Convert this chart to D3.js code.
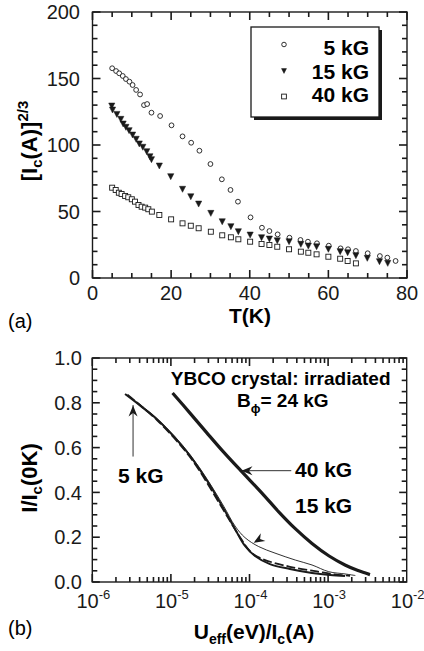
<!DOCTYPE html>
<html>
<head>
<meta charset="utf-8">
<script src="https://cdn.jsdelivr.net/npm/d3@7/dist/d3.min.js"></script>
<style>
  html, body { margin: 0; padding: 0; background: #fff; }
  svg { display: block; font-family: "Liberation Sans", Arial, Helvetica, sans-serif; }
</style>
</head>
<body>
<svg id="fig" width="424" height="651"></svg>
<script>
// ---- Panel (a): [Ic(A)]^(2/3) versus T(K) ----
const temps5 = [5.0, 6.0, 6.8, 7.7, 8.5, 9.4, 10.2, 11.1, 12.1, 13.1, 13.9, 15.0, 17.2, 20.1, 22.9, 25.1, 27.2, 30.0, 32.9, 35.1, 37.0, 40.2, 43.1, 45.0, 47.1, 50.1, 52.9, 54.8, 57.1, 60.1, 63.1, 65.0, 67.0, 70.0, 73.1, 75.0, 77.1];
const ic5 = [157.7, 155.6, 153.9, 151.9, 149.6, 147.6, 145.1, 141.4, 138.0, 130.0, 130.8, 124.3, 121.8, 114.8, 106.5, 101.7, 95.7, 85.7, 74.2, 66.2, 57.4, 45.6, 37.8, 35.3, 32.8, 30.3, 28.6, 27.3, 26.1, 24.3, 22.3, 21.6, 20.3, 18.6, 16.5, 15.3, 12.8];

const temps15 = [4.9, 5.1, 6.2, 7.2, 7.8, 8.5, 9.3, 10.2, 11.1, 11.9, 12.8, 13.8, 14.6, 15.0, 17.0, 19.9, 22.9, 25.0, 27.0, 30.1, 33.0, 35.2, 37.1, 40.1, 43.0, 45.0, 47.0, 50.0, 53.0, 54.9, 57.0, 60.0, 63.0, 64.9, 67.0, 69.9, 73.0, 75.1];
const ic15 = [129.3, 126.3, 123.0, 119.3, 115.8, 113.3, 110.8, 107.5, 104.3, 100.8, 98.3, 95.0, 91.2, 89.0, 84.2, 76.2, 66.7, 61.1, 55.6, 48.6, 42.3, 38.6, 34.8, 32.3, 30.3, 29.3, 28.0, 27.3, 25.3, 24.0, 23.5, 21.6, 19.8, 19.0, 16.8, 14.8, 12.3, 11.0];

const temps40 = [5.0, 5.9, 6.7, 7.4, 8.3, 9.1, 10.0, 10.8, 11.7, 12.5, 13.4, 14.2, 15.1, 17.0, 20.0, 22.9, 25.0, 27.0, 30.1, 33.0, 35.2, 37.1, 40.1, 43.0, 45.0, 47.0, 50.0, 53.0, 54.9, 57.0, 60.0, 63.0, 64.9, 67.0];
const ic40 = [67.9, 66.2, 64.1, 63.2, 61.7, 60.7, 59.2, 57.4, 54.9, 53.6, 52.9, 51.7, 49.9, 47.4, 44.1, 41.1, 39.3, 37.4, 34.8, 32.1, 30.6, 29.1, 27.3, 25.6, 24.8, 23.5, 21.6, 19.8, 19.0, 17.8, 16.0, 14.5, 12.8, 11.0];

const legendLabels = ["5 kG", "15 kG", "40 kG"];
const tTicks = [0, 20, 40, 60, 80];
const icTicks = [0, 50, 100, 150, 200];

// ---- Panel (b): I/Ic(0K) versus Ueff(eV)/Ic(A) ----
const curve40x = [1.05e-5, 1.75e-5, 2.85e-5, 4.6e-5, 7.7e-5, 1.44e-4, 2.37e-4, 3.79e-4, 6.24e-4, 1.03e-3, 1.64e-3, 2.4e-3, 3.41e-3];
const curve40y = [0.844, 0.754, 0.667, 0.583, 0.498, 0.397, 0.312, 0.239, 0.172, 0.116, 0.076, 0.051, 0.033];

const curve5x = [2.61e-6, 4.04e-6, 6.6e-6, 1.07e-5, 1.75e-5, 2.85e-5, 4.64e-5, 6.54e-5, 8.77e-5, 1.175e-4, 1.82e-4, 3.27e-4, 6.24e-4, 1.06e-3, 1.64e-3];
const curve5y = [0.839, 0.788, 0.728, 0.652, 0.563, 0.455, 0.330, 0.237, 0.161, 0.116, 0.080, 0.058, 0.040, 0.031, 0.027];

const curve15x = [2.7e-6, 4.2e-6, 6.8e-6, 1.1e-5, 1.8e-5, 2.9e-5, 4.7e-5, 6.54e-5, 8.77e-5, 1.31e-4, 2.11e-4, 3.83e-4, 6.24e-4, 1.02e-3, 1.64e-3, 2.22e-3];
const curve15y = [0.838, 0.788, 0.726, 0.653, 0.563, 0.458, 0.338, 0.250, 0.198, 0.158, 0.129, 0.098, 0.076, 0.046, 0.036, 0.029];

const curve15bx = [2.8e-6, 6.6e-6, 1.75e-5, 4.5e-5, 7.2e-5, 1.03e-4, 1.45e-4, 3.27e-4, 7.2e-4, 1.2e-3, 1.9e-3];
const curve15by = [0.836, 0.724, 0.558, 0.330, 0.212, 0.135, 0.103, 0.068, 0.047, 0.034, 0.028];

const uTicks = [1e-6, 1e-5, 1e-4, 1e-3, 1e-2];
const fracTicks = [0.0, 0.2, 0.4, 0.6, 0.8, 1.0];

const svg = d3.select("#fig");
const INK = "#1a1a1a";

// ================= Panel (a) =================
const ax = d3.scaleLinear().domain([0, 80]).range([92.5, 407]);
const ay = d3.scaleLinear().domain([0, 200]).range([278, 12]);

const ga = svg.append("g");

function frame(g, xs, ys) {
  const [x0, x1] = xs.range(), [y0, y1] = ys.range();
  g.append("rect").attr("x", x0).attr("y", y1).attr("width", x1 - x0).attr("height", y0 - y1)
    .attr("fill", "none").attr("stroke", INK).attr("stroke-width", 1.4);
}

function tickPair(g, x1, y1, x2, y2) {
  g.append("line").attr("x1", x1).attr("y1", y1).attr("x2", x2).attr("y2", y2)
    .attr("stroke", INK).attr("stroke-width", 1.6);
}

function linTicks(g, xs, ys, xMinor, xMajor, yMinor, yMajor) {
  const [x0, x1] = xs.range(), [y0, y1] = ys.range();
  const [dx0, dx1] = xs.domain(), [dy0, dy1] = ys.domain();
  d3.range(dx0, dx1 + 1e-9, xMinor).forEach(v => {
    const major = Math.abs(v / xMajor - Math.round(v / xMajor)) < 1e-6;
    const len = major ? 8 : 5, x = xs(v);
    tickPair(g, x, y0, x, y0 - len);
    tickPair(g, x, y1, x, y1 + len);
  });
  d3.range(dy0, dy1 + 1e-9, yMinor).forEach(v => {
    const major = Math.abs(v / yMajor - Math.round(v / yMajor)) < 1e-6;
    const len = major ? 8 : 5, y = ys(v);
    tickPair(g, x0, y, x0 + len, y);
    tickPair(g, x1, y, x1 - len, y);
  });
}

linTicks(ga, ax, ay, 5, 20, 10, 50);
frame(ga, ax, ay);

// tick labels
ga.selectAll("text.xt").data(tTicks).join("text")
  .attr("x", d => ax(d)).attr("y", 299.5).attr("text-anchor", "middle")
  .attr("font-size", 20).attr("fill", INK).text(d => d);
ga.selectAll("text.yt").data(icTicks).join("text")
  .attr("x", 80).attr("y", d => ay(d) + 7).attr("text-anchor", "end")
  .attr("font-size", 20).attr("fill", INK).text(d => d);

// axis titles
ga.append("text").attr("x", 250).attr("y", 323).attr("text-anchor", "middle")
  .attr("font-size", 21).attr("font-weight", "bold").text("T(K)");
ga.append("text").attr("x", 8).attr("y", 328).attr("font-size", 20).text("(a)");

const ylab = ga.append("text").attr("transform", "translate(37,141) rotate(-90)")
  .attr("text-anchor", "middle").attr("font-size", 22).attr("font-weight", "bold");
ylab.append("tspan").text("[I");
ylab.append("tspan").attr("font-size", 15).attr("dy", 5).text("c");
ylab.append("tspan").attr("dy", -5).text("(A)]");
ylab.append("tspan").attr("font-size", 15).attr("dy", -9).text("2/3");

// markers
const series = [
  { t: temps5, v: ic5, shape: "circle" },
  { t: temps15, v: ic15, shape: "tri" },
  { t: temps40, v: ic40, shape: "square" }
];

function marker(g, shape, x, y, s) {
  if (shape === "circle") {
    g.append("circle").attr("cx", x).attr("cy", y).attr("r", 2.4 * s)
      .attr("fill", "#fff").attr("stroke", INK).attr("stroke-width", 0.9);
  } else if (shape === "square") {
    const h = 2.5 * s;
    g.append("rect").attr("x", x - h).attr("y", y - h).attr("width", 2 * h).attr("height", 2 * h)
      .attr("fill", "#fff").attr("stroke", INK).attr("stroke-width", 0.9);
  } else {
    const w = 3.1 * s, h = 3.0 * s;
    g.append("path").attr("d", `M${x - w},${y - h}L${x + w},${y - h}L${x},${y + h}Z`)
      .attr("fill", INK).attr("stroke", INK).attr("stroke-width", 0.5);
  }
}

series.forEach(s => {
  const g = ga.append("g");
  s.t.forEach((t, i) => marker(g, s.shape, ax(t), ay(s.v[i]), 1));
});

// legend with drop shadow
const lg = ga.append("g");
lg.append("rect").attr("x", 254).attr("y", 30).attr("width", 128).attr("height", 90).attr("fill", INK);
lg.append("rect").attr("x", 251).attr("y", 27).attr("width", 128).attr("height", 90)
  .attr("fill", "#fff").attr("stroke", INK).attr("stroke-width", 1.3);
const legRows = [{ shape: "circle", sy: 44.5, ty: 55 }, { shape: "tri", sy: 71, ty: 78.5 }, { shape: "square", sy: 96.5, ty: 101.5 }];
legRows.forEach((r, i) => {
  marker(lg, r.shape, 284, r.sy, r.shape === "tri" ? 0.8 : 0.95);
  lg.append("text").attr("x", 369).attr("y", r.ty).attr("text-anchor", "end")
    .attr("font-size", 21).attr("font-weight", "bold").text(legendLabels[i]);
});

// ================= Panel (b) =================
const bx = d3.scaleLog().domain([1e-6, 1e-2]).range([92.3, 406.7]);
const by = d3.scaleLinear().domain([0, 1]).range([582, 358]);
const gb = svg.append("g");

// log ticks on x, linear ticks on y
(function () {
  const [x0, x1] = bx.range(), [y0, y1] = by.range();
  for (let e = -6; e < -2; e++) {
    for (let m = 1; m <= 9; m++) {
      const v = m * Math.pow(10, e);
      const len = m === 1 ? 8 : 5, x = bx(v);
      tickPair(gb, x, y0, x, y0 - len);
      tickPair(gb, x, y1, x, y1 + len);
    }
  }
  for (let k = 0; k <= 20; k++) {
    const len = k % 4 === 0 ? 7.5 : 5, y = by(k * 0.05);
    tickPair(gb, x0, y, x0 + len, y);
    tickPair(gb, x1, y, x1 - len, y);
  }
})();
frame(gb, bx, by);

gb.selectAll("text.yt").data(fracTicks).join("text")
  .attr("x", 82).attr("y", d => by(d) + 7.2).attr("text-anchor", "end")
  .attr("font-size", 20).attr("fill", INK).text(d => d.toFixed(1));

uTicks.forEach(v => {
  const t = gb.append("text").attr("x", bx(v) + 1).attr("y", 607.5).attr("text-anchor", "middle")
    .attr("font-size", 20).attr("fill", INK);
  t.append("tspan").text("10");
  t.append("tspan").attr("font-size", 13).attr("dy", -9).text(Math.round(Math.log10(v)));
});

// axis titles
const xlb = gb.append("text").attr("x", 254).attr("y", 639).attr("text-anchor", "middle")
  .attr("font-size", 21).attr("font-weight", "bold");
xlb.append("tspan").text("U");
xlb.append("tspan").attr("font-size", 14).attr("dy", 5).text("eff");
xlb.append("tspan").attr("dy", -5).text("(eV)/I");
xlb.append("tspan").attr("font-size", 14).attr("dy", 5).text("c");
xlb.append("tspan").attr("dy", -5).text("(A)");
gb.append("text").attr("x", 8).attr("y", 635).attr("font-size", 20).text("(b)");

const ylb = gb.append("text").attr("transform", "translate(37,478) rotate(-90)")
  .attr("text-anchor", "middle").attr("font-size", 22).attr("font-weight", "bold");
ylb.append("tspan").text("I/I");
ylb.append("tspan").attr("font-size", 15).attr("dy", 5).text("c");
ylb.append("tspan").attr("dy", -5).text("(0K)");

// curves
const line = d3.line().x(d => bx(d[0])).y(d => by(d[1])).curve(d3.curveCatmullRom);
const pts = (xs, ys) => xs.map((x, i) => [x, ys[i]]);

gb.append("path").attr("d", line(pts(curve15x, curve15y))).attr("fill", "none")
  .attr("stroke", INK).attr("stroke-width", 0.9);
gb.append("path").attr("d", line(pts(curve15bx, curve15by))).attr("fill", "none")
  .attr("stroke", INK).attr("stroke-width", 1.8).attr("stroke-dasharray", "9,3");
gb.append("path").attr("d", line(pts(curve5x, curve5y))).attr("fill", "none")
  .attr("stroke", INK).attr("stroke-width", 2);
gb.append("path").attr("d", line(pts(curve40x, curve40y))).attr("fill", "none")
  .attr("stroke", INK).attr("stroke-width", 3.2);

// annotations
const arrowHead = (g, x, y, ang) => {
  g.append("path").attr("d", "M0,0L-11,-4.5L-7.5,0L-11,4.5Z")
    .attr("transform", `translate(${x},${y}) rotate(${ang})`).attr("fill", INK);
};

// 5 kG arrow
gb.append("line").attr("x1", bx(3.3e-6)).attr("x2", bx(3.3e-6)).attr("y1", by(0.56)).attr("y2", by(0.79))
  .attr("stroke", INK).attr("stroke-width", 0.9);
arrowHead(gb, bx(3.3e-6), by(0.788), -90);
gb.append("text").attr("x", 118).attr("y", 483.3)
  .attr("font-size", 21).attr("font-weight", "bold").text("5 kG");

// 40 kG arrow
gb.append("line").attr("x1", bx(3.4e-4)).attr("x2", bx(8.0e-5)).attr("y1", by(0.497)).attr("y2", by(0.497))
  .attr("stroke", INK).attr("stroke-width", 0.9);
arrowHead(gb, bx(7.9e-5), by(0.497), 180);
gb.append("text").attr("x", 295).attr("y", 476.5).attr("font-size", 21).attr("font-weight", "bold").text("40 kG");
gb.append("text").attr("x", 295).attr("y", 513.3).attr("font-size", 21).attr("font-weight", "bold").text("15 kG");

// 15 kG arrowhead
arrowHead(gb, bx(1.13e-4), by(0.175), 149);

gb.append("text").attr("x", 390.5).attr("y", 385.3).attr("text-anchor", "end")
  .attr("font-size", 19).attr("font-weight", "bold").text("YBCO crystal: irradiated");
const bphi = gb.append("text").attr("x", 237).attr("y", 407)
  .attr("font-size", 19).attr("font-weight", "bold");
bphi.append("tspan").text("B");
bphi.append("tspan").attr("font-size", 13).attr("dy", 6).text("\u03d5");
bphi.append("tspan").attr("dy", -6).text("= 24 kG");
</script>
</body>
</html>
